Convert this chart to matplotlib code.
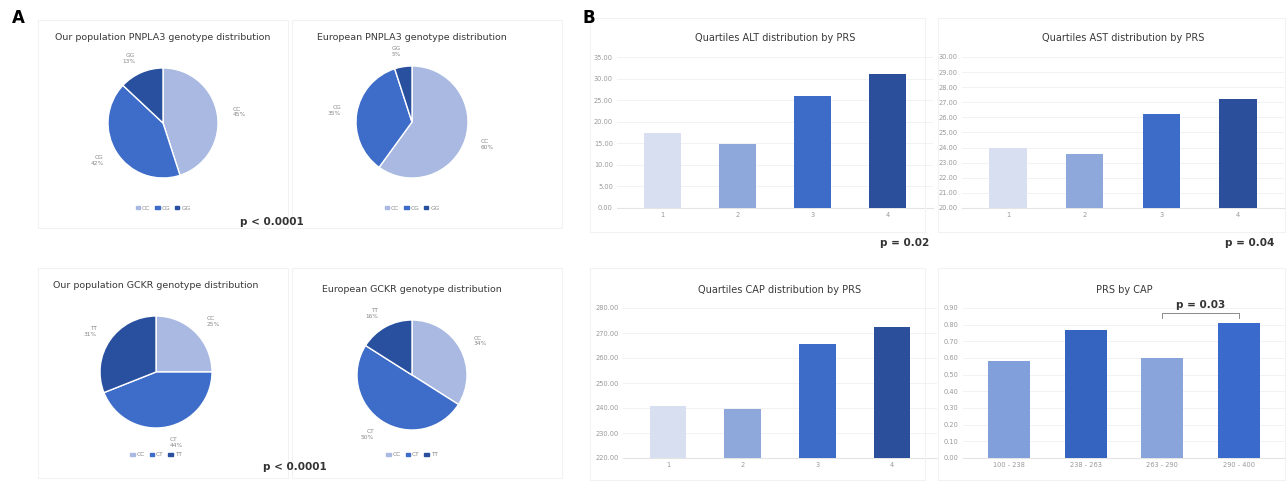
import matplotlib
matplotlib.use("Agg")
import matplotlib.pyplot as plt
from matplotlib.patches import Patch, Rectangle

W, H = 1287, 487

# ── data ──────────────────────────────────────────────────────────────
pnpla3_labels = ["CC", "CG", "GG"]
gckr_labels = ["CC", "CT", "TT"]
our_pnpla3 = [45, 42, 13]
eur_pnpla3 = [60, 35, 5]
our_gckr = [25, 44, 31]
eur_gckr = [34, 50, 16]

quartiles = ["1", "2", "3", "4"]
alt_vals = [17.3, 14.9, 25.9, 31.0]
ast_vals = [24.0, 23.6, 26.2, 27.2]
cap_vals = [240.7, 239.6, 265.7, 272.4]
cap_groups = ["100 - 238", "238 - 263", "263 - 290", "290 - 400"]
prs_vals = [0.58, 0.77, 0.60, 0.81]

# ── colours ───────────────────────────────────────────────────────────
PIE_C = ["#a9b9e1", "#3e6cc9", "#28509e"]
Q_C = ["#d7dff0", "#8ea8dc", "#3d6cc8", "#2b4f9b"]
PRS_C = ["#809fdb", "#3463c0", "#88a4da", "#3a6bcc"]
FRAME = "#f2f2f2"

fig = plt.figure(figsize=(W / 100, H / 100), dpi=100, facecolor="white")


def px_axes(left, top, right, bottom):
    return fig.add_axes([left / W, 1 - bottom / H, (right - left) / W, (bottom - top) / H])


def frame(left, top, right, bottom):
    fig.patches.append(Rectangle((left / W, 1 - bottom / H), (right - left) / W,
                                 (bottom - top) / H, transform=fig.transFigure,
                                 fill=False, edgecolor=FRAME, linewidth=0.8))


def pie(cx, cy, r, vals, labels, title, ty, leg_y):
    ax = px_axes(cx - r, cy - r, cx + r, cy + r)
    pct = [f"{l}\n{v}%" for l, v in zip(labels, vals)]
    ax.pie(vals, colors=PIE_C, startangle=90, counterclock=False, labels=pct,
           labeldistance=1.28, textprops={"fontsize": 4.2, "color": "#888888"},
           wedgeprops={"edgecolor": "white", "linewidth": 1.0})
    ax.set_xlim(-1, 1)
    ax.set_ylim(-1, 1)
    ax.set_aspect("equal")
    fig.text(cx / W, 1 - ty / H, title, ha="center", va="center",
             fontsize=6.8, color="#3a3a3a", fontweight="medium")
    handles = [Patch(color=c, label=l) for c, l in zip(PIE_C, labels)]
    fig.legend(handles=handles, loc="center", bbox_to_anchor=(cx / W, 1 - leg_y / H),
               ncol=3, frameon=False, fontsize=4.2, handlelength=0.8, handleheight=0.6,
               columnspacing=0.8, handletextpad=0.3, labelcolor="#888888")


def bars(left, top, right, bottom, cats, vals, colors, ylo, yhi, step, title, ty, width):
    ax = px_axes(left, top, right, bottom)
    ax.bar(range(len(cats)), vals, color=colors, width=width, zorder=3)
    ax.set_xlim(-0.6, len(cats) - 0.4)
    ax.set_ylim(ylo, yhi)
    ticks = []
    t = ylo
    while t <= yhi + 1e-9:
        ticks.append(t)
        t += step
    ax.set_yticks(ticks)
    ax.set_yticklabels([f"{v:.2f}" for v in ticks])
    ax.set_xticks(range(len(cats)))
    ax.set_xticklabels(cats)
    ax.tick_params(labelsize=4.8, colors="#999999", length=0, pad=3)
    ax.grid(axis="y", color="#f0f0f0", linewidth=0.6, zorder=0)
    for s in ax.spines.values():
        s.set_visible(False)
    ax.spines["bottom"].set_visible(True)
    ax.spines["bottom"].set_color("#e4e4e4")
    fig.text((left + right) / 2 / W, 1 - ty / H, title, ha="center", va="center",
             fontsize=7, color="#3a3a3a", fontweight="medium")
    return ax


# ── panel A ───────────────────────────────────────────────────────────
fig.text(12 / W, 1 - 18 / H, "A", fontsize=12, fontweight="bold", va="center")
for box in [(38, 20, 288, 228), (292, 20, 562, 228), (38, 268, 288, 478), (292, 268, 562, 478)]:
    frame(*box)

pie(163, 123, 55, our_pnpla3, pnpla3_labels, "Our population PNPLA3 genotype distribution", 38, 208)
pie(412, 122, 56, eur_pnpla3, pnpla3_labels, "European PNPLA3 genotype distribution", 38, 208)
pie(156, 372, 56, our_gckr, gckr_labels, "Our population GCKR genotype distribution", 286, 455)
pie(412, 375, 55, eur_gckr, gckr_labels, "European GCKR genotype distribution", 290, 455)

fig.text(272 / W, 1 - 222 / H, "p < 0.0001", ha="center", va="center",
         fontsize=7.5, color="#333333", fontweight="bold")
fig.text(295 / W, 1 - 467 / H, "p < 0.0001", ha="center", va="center",
         fontsize=7.5, color="#333333", fontweight="bold")

# ── panel B ───────────────────────────────────────────────────────────
fig.text(583 / W, 1 - 18 / H, "B", fontsize=12, fontweight="bold", va="center")
for box in [(590, 18, 925, 232), (938, 18, 1285, 232), (590, 268, 925, 480), (938, 268, 1285, 480)]:
    frame(*box)

bars(617, 57, 933, 208, quartiles, alt_vals, Q_C, 0, 35, 5,
     "Quartiles ALT distribution by PRS", 38, 0.49)
bars(962, 57, 1284, 208, quartiles, ast_vals, Q_C, 20, 30, 1,
     "Quartiles AST distribution by PRS", 38, 0.49)
bars(623, 308, 937, 458, quartiles, cap_vals, Q_C, 220, 280, 10,
     "Quartiles CAP distribution by PRS", 290, 0.49)
ax4 = bars(963, 308, 1285, 458, cap_groups, prs_vals, PRS_C, 0, 0.9, 0.1,
           "PRS by CAP", 290, 0.55)

# significance bracket between groups 3 and 4
yb = 0.87
ax4.plot([2, 2, 3, 3], [yb - 0.03, yb, yb, yb - 0.03], color="#777777",
         linewidth=0.6, clip_on=False)
ax4.text(2.5, yb + 0.02, "p = 0.03", ha="center", va="bottom", fontsize=7.5,
         color="#333333", fontweight="bold")

fig.text(905 / W, 1 - 243 / H, "p = 0.02", ha="center", va="center",
         fontsize=7.5, color="#333333", fontweight="bold")
fig.text(1250 / W, 1 - 243 / H, "p = 0.04", ha="center", va="center",
         fontsize=7.5, color="#333333", fontweight="bold")

fig.savefig("out.png", dpi=100, facecolor="white")
